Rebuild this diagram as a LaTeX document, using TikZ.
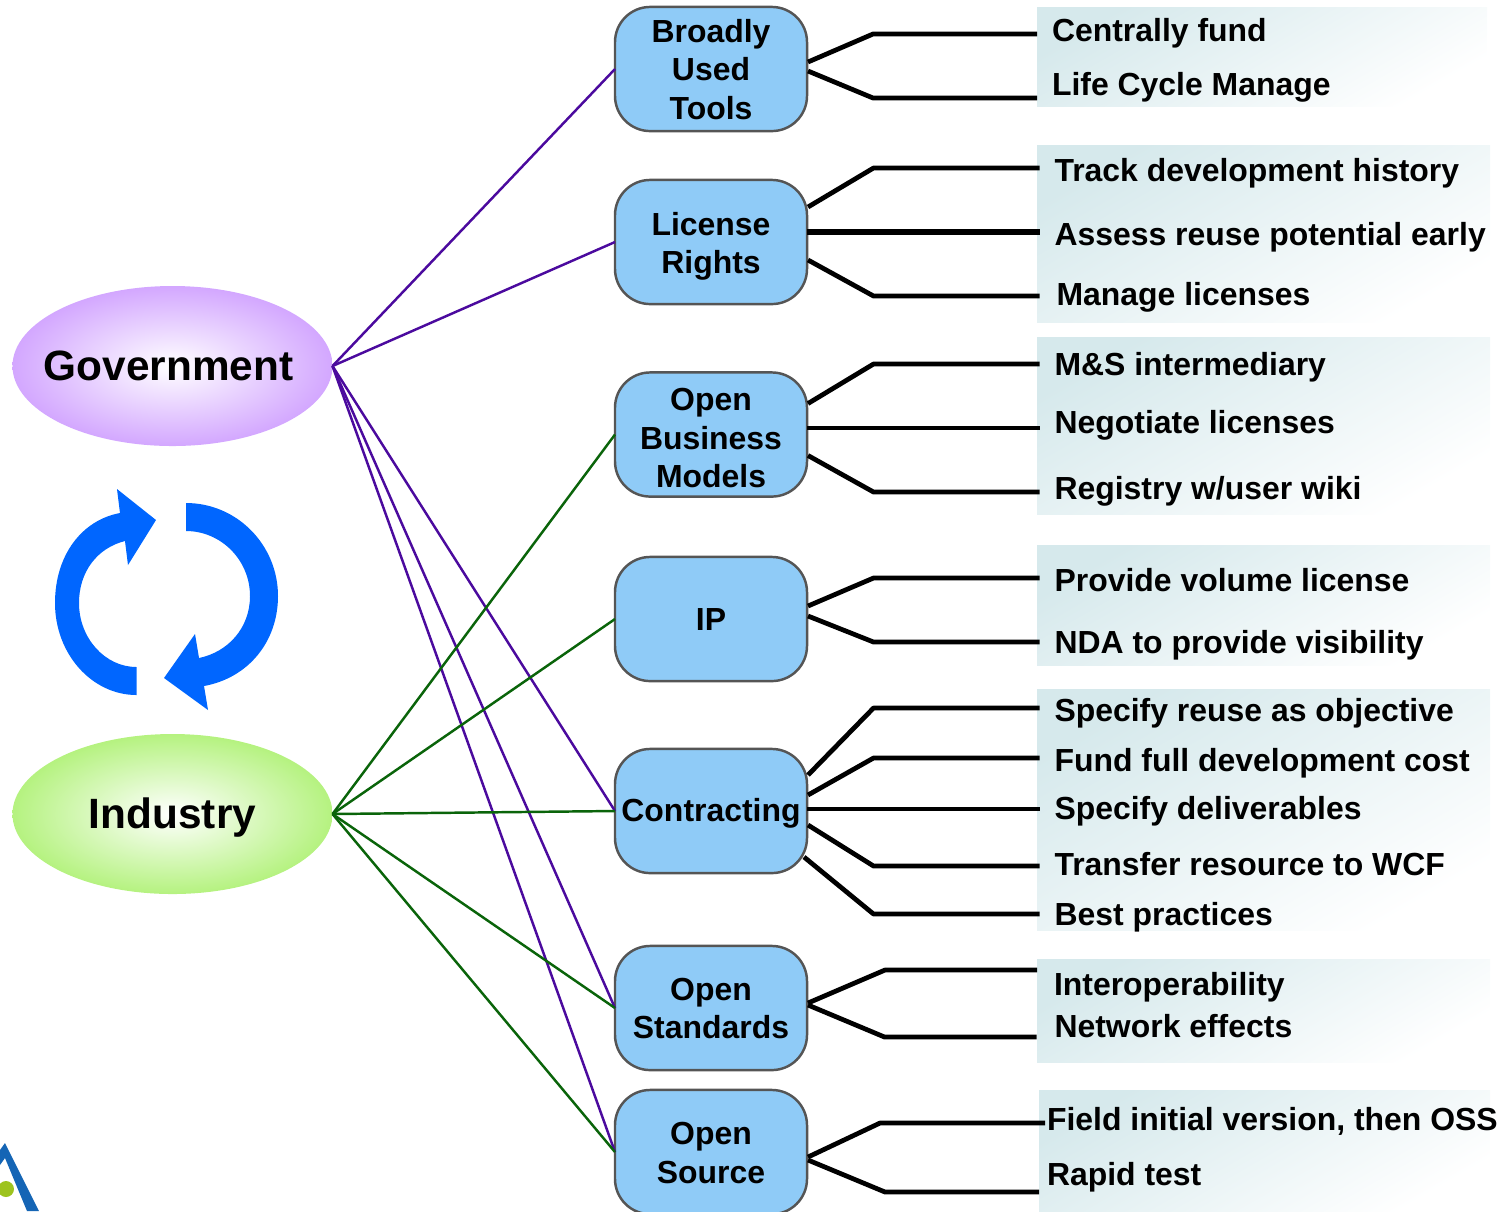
\documentclass[tikz,border=0pt]{standalone}
\usepackage{fontspec}
\setmainfont{Liberation Sans}
\usepackage{tikz}
\usetikzlibrary{shapes, calc, positioning, arrows.meta}
\definecolor{govpurple}{HTML}{CC99FF}
\definecolor{indgreen}{HTML}{A9F06B}
\definecolor{boxblue}{HTML}{8FCBF7}
\definecolor{boxedge}{HTML}{555555}
\definecolor{panelblue}{HTML}{D6E9EC}
\definecolor{govline}{HTML}{4B0A9E}
\definecolor{indline}{HTML}{0A640A}
\definecolor{cycleblue}{HTML}{0066FF}
\definecolor{logoblue}{HTML}{1565B5}
\definecolor{logogreen}{HTML}{9DC31E}
\pgfdeclareradialshading{govglow}{\pgfpoint{0bp}{0bp}}{color(0bp)=(white); color(29bp)=(govpurple); color(50bp)=(govpurple)}
\pgfdeclareradialshading{indglow}{\pgfpoint{0bp}{0bp}}{color(0bp)=(white); color(29bp)=(indgreen); color(50bp)=(indgreen)}
\newcommand{\lift}[1]{\rule{0pt}{#1pt}}
\tikzset{
    actor/.style={ellipse, minimum width=91pt, minimum height=45.5pt, inner sep=0pt, outer sep=0pt, text height=8.6pt, text depth=0.56pt, font=\fontsize{12.05pt}{14pt}\selectfont\bfseries},
    topic/.style={draw=boxedge, line width=0.7pt, fill=boxblue, rounded corners=10pt, minimum width=54.6pt, minimum height=35.3pt, inner sep=0pt, outer sep=0pt, align=center, font=\fontsize{9.08pt}{10.95pt}\selectfont\bfseries},
    leaf/.style={anchor=west, inner xsep=4.27pt, inner ysep=0pt, outer sep=0pt, text height=7pt, text depth=0.7pt, font=\fontsize{9.08pt}{10.95pt}\selectfont\bfseries},
    panel/.style={top color=panelblue, bottom color=white, shading angle=30},
    branch/.style={line width=1.35pt, line join=round},
    govlink/.style={draw=govline, line width=0.7pt},
    indlink/.style={draw=indline, line width=0.7pt}
}

\begin{document}
\begin{tikzpicture}[x=0.01cm, y=-0.01cm]
    \path[use as bounding box, clip] (0,0) rectangle (1510,1211);
    % panels behind the leaves
    \shade[panel] (1037,7) rectangle (1487,106);
    \shade[panel] (1037,145) rectangle (1490,322);
    \shade[panel] (1037,337) rectangle (1490,514);
    \shade[panel] (1037,545) rectangle (1490,665);
    \shade[panel] (1037,689) rectangle (1490,930);
    \shade[panel] (1037,959) rectangle (1490,1062);
    \shade[panel] (1039,1090) rectangle (1490,1211);

    \node[actor, shading=govglow](Gov) at (172.5,366) {\makebox[0pt]{Government\hspace*{2.3pt}}};
    \node[actor, shading=indglow](Ind) at (172.5,814) {\makebox[0pt]{Industry}};

    \node[topic](Tools) at (711,69) {\lift{6.7}Broadly\\Used\\Tools};
    \node[topic](Rights) at (711,242) {\lift{8.9}License\\Rights};
    \node[topic](Models) at (711,434.5) {\lift{8.45}Open\\Business\\Models};
    \node[topic](IP) at (711,619) {\lift{6.7}IP};
    \node[topic](Contract) at (711,811) {\lift{7.8}Contracting};
    \node[topic](Standards) at (711,1008) {\lift{6.75}Open\\Standards};
    \node[topic](Source) at (711,1152) {\lift{6.75}Open\\Source};

    \node[leaf](Fund_c) at (1037,30) {Centrally fund};
    \node[leaf](Life) at (1037,84) {Life Cycle Manage};
    \node[leaf](Track) at (1039.5,170) {Track development history};
    \node[leaf](Assess) at (1039.5,234) {Assess reuse potential early};
    \node[leaf](Manage) at (1041.5,294) {Manage licenses};
    \node[leaf](MS) at (1039.5,364) {M\&S intermediary};
    \node[leaf](Negotiate) at (1039.5,422) {Negotiate licenses};
    \node[leaf](Registry) at (1039.5,488) {Registry w/user wiki};
    \node[leaf](Volume) at (1039.5,580) {Provide volume license};
    \node[leaf](NDA) at (1039.5,642) {NDA to provide visibility};
    \node[leaf](Reuse) at (1039.5,710) {Specify reuse as objective};
    \node[leaf](Fund_f) at (1039.5,760) {Fund full development cost};
    \node[leaf](Deliver) at (1039.5,808) {Specify deliverables};
    \node[leaf](Transfer) at (1039.5,864) {Transfer resource to WCF};
    \node[leaf](Best) at (1039.5,914) {Best practices};
    \node[leaf](Interop) at (1039,984) {Interoperability};
    \node[leaf](Network) at (1039.5,1026) {Network effects};
    \node[leaf](Field) at (1032,1119) {Field initial version, then OSS};
    \node[leaf](Rapid) at (1032,1174) {Rapid test};

    \draw[govlink] (Gov.east) -- (Tools.west);
    \draw[govlink] (Gov.east) -- (Rights.west);
    \draw[govlink] (Gov.east) -- (Contract.west);
    \draw[govlink] (Gov.east) -- (Standards.west);
    \draw[govlink] (Gov.east) -- (Source.west);
    \draw[indlink] (Ind.east) -- (Models.west);
    \draw[indlink] (Ind.east) -- (IP.west);
    \draw[indlink] (Ind.east) -- (Contract.west);
    \draw[indlink] (Ind.east) -- (Standards.west);
    \draw[indlink] (Ind.east) -- (Source.west);

    \draw[branch] ($(Tools.east)+(1,-7)$) -- ($(Fund_c.west)+(-164,4)$) -- ($(Fund_c.west)+(0,4)$);
    \draw[branch] ($(Tools.east)+(1,2)$) -- ($(Life.west)+(-164,14)$) -- ($(Life.west)+(0,14)$);
    \draw[branch] ($(Rights.east)+(1,-35)$) -- ($(Track.west)+(-166,-2)$) -- ($(Track.west)+(0,-2)$);
    \draw[branch, line width=1.6pt] (Rights.east |- Assess) ++(0,-2) -- ($(Assess.west)+(0,-2)$);
    \draw[branch] ($(Rights.east)+(1,18)$) -- ($(Manage.west)+(-168,2)$) -- ($(Manage.west)+(-2,2)$);
    \draw[branch] ($(Models.east)+(1,-31)$) -- ($(MS.west)+(-166,0)$) -- (MS.west);
    \draw[branch] (Models.east |- Negotiate) ++(0,6) -- ($(Negotiate.west)+(0,6)$);
    \draw[branch] ($(Models.east)+(1,21)$) -- ($(Registry.west)+(-166,4)$) -- ($(Registry.west)+(0,4)$);
    \draw[branch] ($(IP.east)+(1,-13)$) -- ($(Volume.west)+(-166,-2)$) -- ($(Volume.west)+(0,-2)$);
    \draw[branch] ($(IP.east)+(1,-3)$) -- ($(NDA.west)+(-166,0)$) -- (NDA.west);
    \draw[branch] ($(Contract.east)+(1,-36)$) -- ($(Reuse.west)+(-166,-2)$) -- ($(Reuse.west)+(0,-2)$);
    \draw[branch] ($(Contract.east)+(1,-16)$) -- ($(Fund_f.west)+(-166,-2)$) -- ($(Fund_f.west)+(0,-2)$);
    \draw[branch] (Contract.east |- Deliver) ++(0,1) -- ($(Deliver.west)+(0,1)$);
    \draw[branch] ($(Contract.east)+(1,14)$) -- ($(Transfer.west)+(-166,2)$) -- ($(Transfer.west)+(0,2)$);
    \draw[branch] ($(Contract.east)+(-3,46)$) -- ($(Best.west)+(-166,0)$) -- (Best.west);
    \draw[branch] ($(Standards.east)+(1,-5)$) -- ($(Interop.west)+(-154,-14)$) -- ($(Interop.west)+(-2,-14)$);
    \draw[branch] ($(Standards.east)+(1,-3)$) -- ($(Network.west)+(-155,11)$) -- ($(Network.west)+(-3,11)$);
    \draw[branch] ($(Source.east)+(1,5)$) -- ($(Field.west)+(-152,4)$) -- ($(Field.west)+(13,4)$);
    \draw[branch] ($(Source.east)+(1,8)$) -- ($(Rapid.west)+(-147,18)$) -- ($(Rapid.west)+(7,18)$);

    % cycle arrows
    \fill[cycleblue] (136.5,695) .. controls (92,695) and (55,654) .. (55,603)
        .. controls (55,555) and (82,520) .. (120,513) -- (117,489) -- (156,520)
        -- (128,565) -- (125,541) .. controls (97,548) and (79,572) .. (79,603)
        .. controls (79,638) and (105,667) .. (136.5,667) -- cycle;
    \fill[cycleblue] (186,503) .. controls (237,503) and (278,545) .. (278,596)
        .. controls (278,642) and (248,678) .. (204,686) -- (208,710) -- (164,678)
        -- (195,634) -- (199,658) .. controls (228,652) and (250,628) .. (250,596)
        .. controls (250,560) and (221,531) .. (186,531) -- cycle;

    % logo corner
    \fill[logoblue] (0,1150) -- (5,1143) -- (39,1211) -- (27,1211) -- (5,1158) -- (0,1165) -- cycle;
    \fill[logogreen] (6,1189) circle (8);
\end{tikzpicture}
\end{document}
